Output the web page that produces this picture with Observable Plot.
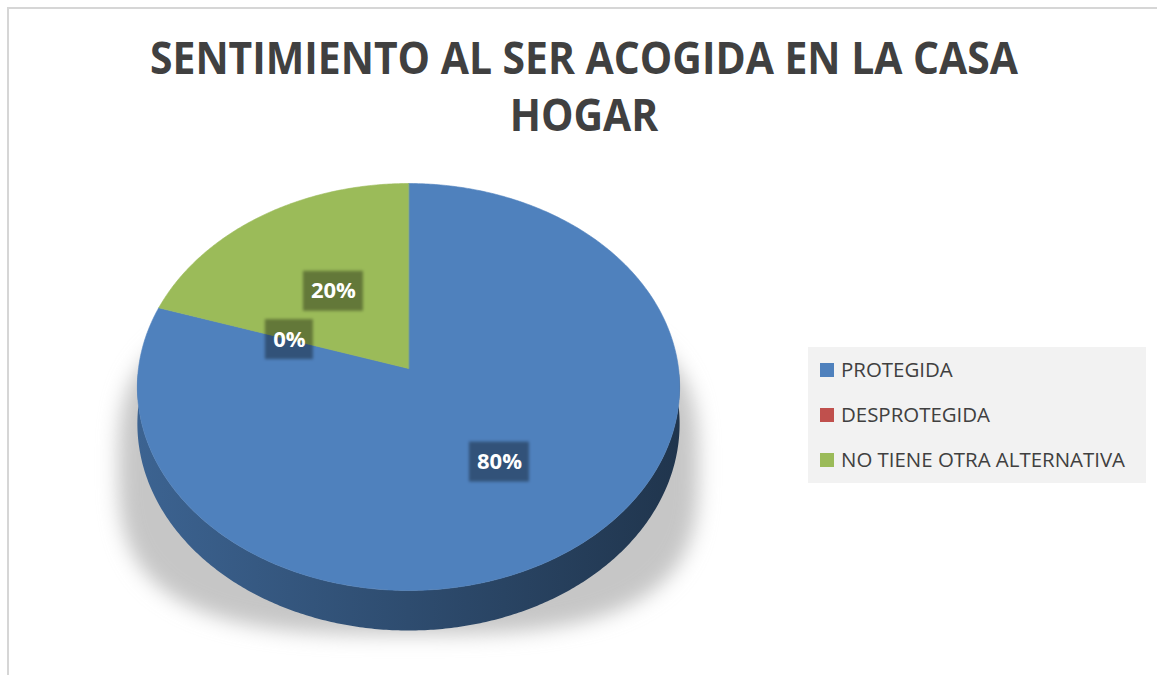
<!DOCTYPE html>
<html><head><meta charset="utf-8">
<script src="https://cdn.jsdelivr.net/npm/d3@7"></script>
<script src="https://cdn.jsdelivr.net/npm/@observablehq/plot@0.6"></script>
<style>
html,body{margin:0;padding:0;background:#fff;}
#wrap{position:relative;width:1157px;height:675px;overflow:hidden;}
#frame{position:absolute;left:7px;top:7px;width:1300px;height:800px;border-top:2px solid #d6d6d6;border-left:2px solid #d6d6d6;}
#plot,#overlay{position:absolute;left:0;top:0;}
#overlay{pointer-events:none;}
</style></head>
<body><div id="wrap"><div id="frame"></div><div id="plot"></div><svg id="overlay" width="1157" height="675"></svg></div>
<script>
// ---- data ----
const titleLines = ["SENTIMIENTO AL SER ACOGIDA EN LA CASA", "HOGAR"];
const categories = ["PROTEGIDA", "DESPROTEGIDA", "NO TIENE OTRA ALTERNATIVA"];
const values = [80, 0, 20];
const colors = ["#4f81bd", "#c0504d", "#9bbb59"];

// ---- 3D perspective pie geometry ----
const P = {x0: 408, y0: 368, R: 270, S: 201.8, p: 0.0909, D: 36.4};
function proj(theta, k = 1, down = 0) {
  const u = k * Math.sin(theta), v = -k * Math.cos(theta);
  const w = 1 - P.p * v;
  return {x: P.x0 + P.R * u / w, y: P.y0 + (P.S * v + down) / w};
}
const total = d3.sum(values);
const arcs = d3.pie().sort(null).startAngle(0).endAngle(2 * Math.PI)(values);

function arcPts(a0, a1, down = 0) {
  const n = Math.max(2, Math.ceil(Math.abs(a1 - a0) / 0.01));
  return d3.range(n + 1).map(i => proj(a0 + (a1 - a0) * i / n, 1, down));
}

// shadow (decoration)
const shadowPts = d3.range(240).map(i => {
  const t = i / 240 * 2 * Math.PI, c = Math.cos(t), s = Math.sin(t);
  return {x: P.x0 + (P.R + 20) * Math.sign(c) * Math.pow(Math.abs(c), 2 / 3),
          y: P.y0 + 98 + 168 * Math.sign(s) * Math.pow(Math.abs(s), 2 / 3)};
});

const sideMarks = [], topMarks = [];
arcs.forEach((a, i) => {
  if (a.endAngle - a.startAngle <= 0) return;
  const s0 = Math.max(a.startAngle, Math.PI / 2), s1 = Math.min(a.endAngle, 3 * Math.PI / 2);
  if (s1 > s0) {
    const pts = arcPts(s0, s1).concat(arcPts(s1, s0, P.D));
    sideMarks.push(Plot.line(pts, {x: "x", y: "y", fill: `url(#side${i})`, stroke: "none", curve: "linear-closed"}));
  }
  const pts = [proj(0, 0)].concat(arcPts(a.startAngle, a.endAngle));
  topMarks.push(Plot.line(pts, {x: "x", y: "y", fill: colors[i], stroke: colors[i], strokeWidth: 0.6, curve: "linear-closed"}));
});

const labelData = arcs.map((a, i) => {
  const share = values[i] / total;
  const mid = (a.startAngle + a.endAngle) / 2;
  const pt = proj(mid, 0.47 + 0.1 * share);
  const txt = Math.round(share * 100) + "%";
  return {x: pt.x, y: pt.y, text: txt, w: 12 * txt.length + 24};
});

const chart = Plot.plot({
  width: 1157, height: 675, margin: 0,
  x: {domain: [0, 1157], range: [0, 1157], axis: null},
  y: {domain: [0, 675], range: [0, 675], axis: null},
  style: {background: "transparent", overflow: "visible"},
  marks: [
    Plot.line(shadowPts, {x: "x", y: "y", fill: "#c6c6c6", stroke: "none", curve: "linear-closed"}),
    ...sideMarks,
    ...topMarks,
    Plot.rect(labelData, {x1: d => d.x - d.w / 2, x2: d => d.x + d.w / 2, y1: d => d.y - 20, y2: d => d.y + 20,
      fill: "#000", fillOpacity: 0.36}),
    Plot.text(labelData, {x: "x", y: "y", text: "text", fill: "white", fontWeight: "bold", fontSize: 22,
      fontFamily: "Open Sans"})
  ]
});
document.getElementById("plot").appendChild(chart);

// defs: gradients and blur filters
const svg = d3.select(chart);
const defs = svg.insert("defs", ":first-child");
colors.forEach((c, i) => {
  const g = defs.append("linearGradient").attr("id", `side${i}`).attr("x1", 0).attr("x2", 1).attr("y1", 0).attr("y2", 0);
  g.append("stop").attr("offset", "0%").attr("stop-color", d3.color(c).darker(0.75));
  g.append("stop").attr("offset", "50%").attr("stop-color", d3.color(c).darker(1.5));
  g.append("stop").attr("offset", "100%").attr("stop-color", d3.color(c).darker(2.5));
});
defs.append("filter").attr("id", "blurS").attr("filterUnits", "userSpaceOnUse")
  .attr("x", 0).attr("y", 0).attr("width", 1157).attr("height", 675)
  .append("feGaussianBlur").attr("stdDeviation", 10);
defs.append("filter").attr("id", "blurL").attr("filterUnits", "userSpaceOnUse")
  .attr("x", 0).attr("y", 0).attr("width", 1157).attr("height", 675)
  .append("feGaussianBlur").attr("stdDeviation", 1.8);
const lineGroups = chart.querySelectorAll('g[aria-label="line"]');
if (lineGroups.length) lineGroups[0].setAttribute("filter", "url(#blurS)");
const rectGroup = chart.querySelector('g[aria-label="rect"]');
if (rectGroup) rectGroup.setAttribute("filter", "url(#blurL)");

// ---- title & legend overlay ----
const ov = d3.select("#overlay");
const titleYs = [74, 131];
const tnodes = titleLines.map((t, i) => ov.append("text").attr("x", 584).attr("y", titleYs[i])
  .attr("text-anchor", "middle").attr("font-family", "Open Sans").attr("font-weight", 700)
  .attr("font-size", 44).attr("fill", "#404040").text(t));
const k = 868 / tnodes[0].node().getComputedTextLength();
tnodes.forEach(n => n.attr("textLength", n.node().getComputedTextLength() * k).attr("lengthAdjust", "spacingAndGlyphs"));

ov.append("rect").attr("x", 808).attr("y", 347).attr("width", 338).attr("height", 136).attr("fill", "#f2f2f2");
const rowY = [370, 415, 460];
const lnodes = categories.map((c, i) => {
  ov.append("rect").attr("x", 820).attr("y", rowY[i] - 7).attr("width", 14).attr("height", 14).attr("fill", colors[i]);
  return ov.append("text").attr("x", 841).attr("y", rowY[i] + 7).attr("font-family", "Open Sans")
    .attr("font-size", 20).attr("fill", "#404040").text(c);
});
const kl = 284 / d3.max(lnodes, n => n.node().getComputedTextLength());
lnodes.forEach(n => n.attr("textLength", n.node().getComputedTextLength() * kl).attr("lengthAdjust", "spacingAndGlyphs"));
</script></body></html>
